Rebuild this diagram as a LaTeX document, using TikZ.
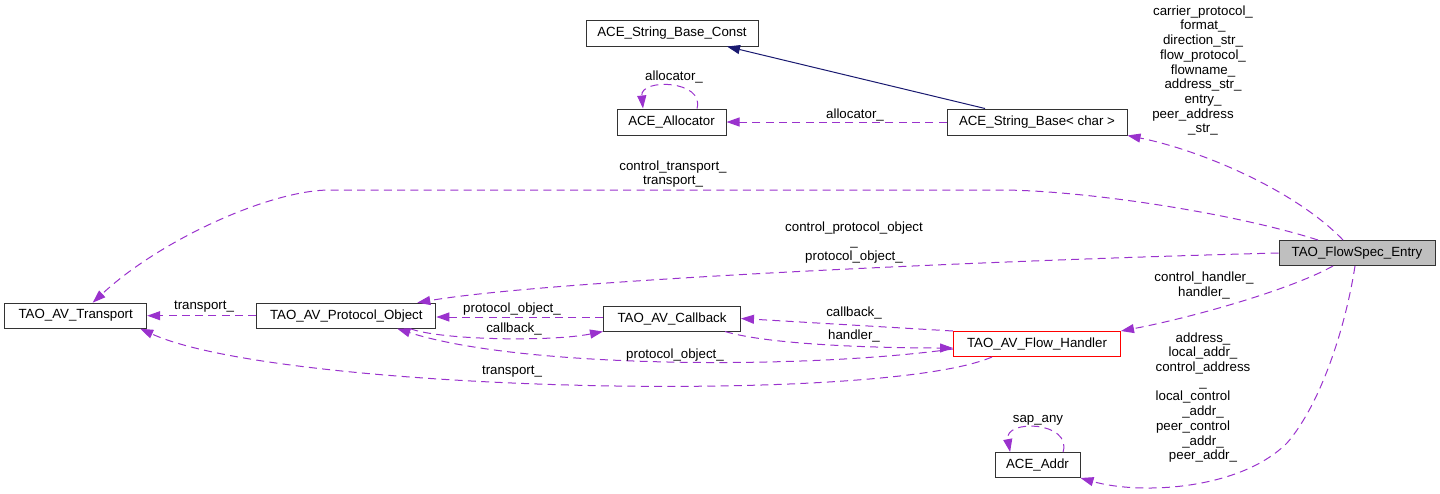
\documentclass[tikz,border=0pt]{standalone}
\usepackage{fontspec}
\setmainfont{Liberation Sans}
\usetikzlibrary{arrows.meta}
\definecolor{refc}{HTML}{9A32CD}
\definecolor{inhc}{HTML}{191970}
\definecolor{fsfill}{HTML}{BFBFBF}
\newcommand\fsz{\fontsize{13.3}{14.7}\selectfont}
\newcommand\lsh{\rule{20pt}{0pt}}
\tikzset{
 cls/.style={draw=black!80, line width=1pt, minimum height=25pt, inner sep=0pt, font=\fsz, fill=white},
 ref/.style={draw=refc, line width=1pt, dash pattern=on 8pt off 5.3pt, -{Triangle[length=13pt,width=9pt,fill=refc]}},
 inh/.style={draw=inhc, line width=1pt, -{Triangle[length=13pt,width=9pt,fill=inhc]}},
 lbl/.style={font=\fsz, align=center, inner sep=0pt},
}
\begin{document}
\begin{tikzpicture}[x=1pt,y=-1pt]
\useasboundingbox (0,0) rectangle (1440,493);
% classes
\node[cls, minimum width=172pt, minimum height=26pt] (SBC) at (672,33) {ACE\_String\_Base\_Const};
\node[cls, minimum width=109pt, minimum height=26pt] (Alloc) at (671.5,122) {ACE\_Allocator};
\node[cls, minimum width=180pt, minimum height=26pt] (SB) at (1037,122) {ACE\_String\_Base< char >};
\node[cls, minimum width=156pt, fill=fsfill] (FS) at (1357,253) {TAO\_FlowSpec\_Entry};
\node[cls, minimum width=142pt] (Tr) at (75.7,315.7) {TAO\_AV\_Transport};
\node[cls, minimum width=179pt] (PO) at (346.3,315.7) {TAO\_AV\_Protocol\_Object};
\node[cls, minimum width=137pt] (CB) at (672,318.5) {TAO\_AV\_Callback};
\node[cls, minimum width=167pt, draw=red] (FH) at (1037,344) {TAO\_AV\_Flow\_Handler};
\node[cls, minimum width=85pt] (Addr) at (1037.5,465) {ACE\_Addr};

% inheritance
\draw[inh] ([xshift=-52pt]SB.north) -- ([xshift=55pt]SBC.south);
% String_Base -> Allocator
\draw[ref] (SB.west) -- (Alloc.east);
\node[lbl] (lA1) at (855,115) {allocator\_};
% Allocator self loop
\draw[ref] ([xshift=25.5pt]Alloc.north) .. controls (705,80) and (640,78) .. ([xshift=-28.5pt]Alloc.north);
\node[lbl] (lA2) at (674,77) {allocator\_};
% FlowSpec -> String_Base
\draw[ref] ([xshift=-14pt]FS.north) .. controls (1295,190) and (1200,150) .. (SB.south east);
\node[lbl] (lSB) at (1203,70.5) {carrier\_protocol\_\\format\_\\direction\_str\_\\flow\_protocol\_\\flowname\_\\address\_str\_\\entry\_\\peer\_address\lsh\\\_str\_};
% FlowSpec -> Transport
\draw[ref] ([xshift=-39pt]FS.north) .. controls (1230,212) and (1080,190) .. (1000,190) -- (330,190) .. controls (270,190) and (160,240) .. ([xshift=17pt]Tr.north);
\node[lbl] (lTr1) at (673,174) {control\_transport\_\\transport\_};
% FlowSpec -> Protocol_Object
\draw[ref] (FS.west) .. controls (1000,260) and (550,280) .. ([xshift=71pt]PO.north);
\node[lbl] (lPO1) at (854,242.5) {control\_protocol\_object\\\_\\protocol\_object\_};
% FlowSpec -> Flow_Handler
\draw[ref] ([xshift=-24pt]FS.south) .. controls (1290,290) and (1190,318) .. (FH.north east);
\node[lbl] (lFH1) at (1204,285.5) {control\_handler\_\\handler\_};
% FlowSpec -> Addr
\draw[ref] ([xshift=-2pt]FS.south) .. controls (1345,330) and (1320,405) .. (1287,443) .. controls (1240,490) and (1140,495) .. (Addr.south east);
\node[lbl] (lAd) at (1203,397.5) {address\_\\local\_addr\_\\control\_address\\\_\\local\_control\lsh\\\_addr\_\\peer\_control\lsh\\\_addr\_\\peer\_addr\_};
% Addr self loop
\draw[ref] ([xshift=25.6pt]Addr.north) .. controls (1072,421) and (1004,419) .. ([xshift=-27.4pt]Addr.north);
\node[lbl] (lAd2) at (1038,420) {sap\_any};
% Protocol_Object -> Transport
\draw[ref] (PO.west) -- (Tr.east);
\node[lbl] (lTr2) at (204,307) {transport\_};
% Callback -> Protocol_Object
\draw[ref] ([yshift=1.5pt]CB.west) -- ([yshift=-1.3pt]PO.east);
\node[lbl] (lPO2) at (512,309) {protocol\_object\_};
% Protocol_Object -> Callback
\draw[ref] ([xshift=64pt]PO.south) .. controls (440,340) and (550,342) .. (CB.south west);
\node[lbl] (lCB1) at (514,329) {callback\_};
% Flow_Handler -> Protocol_Object
\draw[ref] ([yshift=-5pt]FH.west) .. controls (800,370) and (520,368) .. ([xshift=51pt]PO.south);
\node[lbl] (lPO3) at (675,355) {protocol\_object\_};
% Flow_Handler -> Callback
\draw[ref] (FH.north west) -- (CB.east);
\node[lbl] (lCB2) at (854,313) {callback\_};
% Callback -> Flow_Handler
\draw[ref] ([xshift=53pt]CB.south) .. controls (770,345) and (880,348) .. ([yshift=-4pt]FH.west);
\node[lbl] (lFH2) at (854,336) {handler\_};
% Flow_Handler -> Transport
\draw[ref] ([xshift=-45pt]FH.south) .. controls (880,405) and (280,392) .. ([xshift=-7pt]Tr.south east);
\node[lbl] (lTr3) at (512,372) {transport\_};
\end{tikzpicture}
\end{document}
